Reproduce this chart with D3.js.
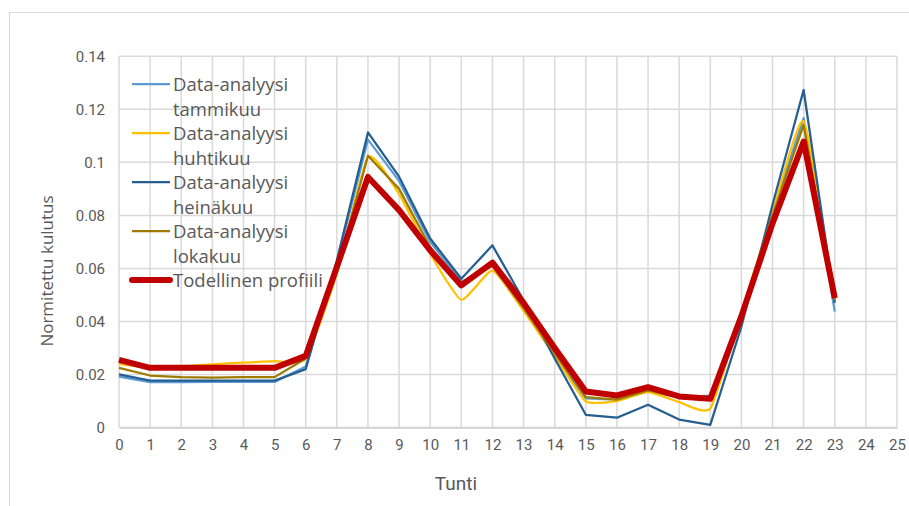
<!DOCTYPE html>
<html><head><meta charset="utf-8">
<script src="https://cdn.jsdelivr.net/npm/d3@7"></script>
<style>body{margin:0;background:#fff}svg{display:block}</style>
</head><body>
<svg id="c" width="909" height="506"></svg>
<script>
const hours = d3.range(0, 24);
const xTicks = d3.range(0, 26);
const yTicks = [0, 0.02, 0.04, 0.06, 0.08, 0.1, 0.12, 0.14];
const yTickLabels = ["0", "0.02", "0.04", "0.06", "0.08", "0.1", "0.12", "0.14"];
const seriesNames = ["Data-analyysi tammikuu", "Data-analyysi huhtikuu", "Data-analyysi heinäkuu", "Data-analyysi lokakuu", "Todellinen profiili"];
const tammikuu = [0.0192,0.0171,0.0171,0.0172,0.0172,0.0172,0.023,0.062,0.1086,0.093,0.070,0.055,0.061,0.046,0.027,0.011,0.0105,0.0135,0.0115,0.012,0.043,0.081,0.1167,0.0437];
const huhtikuu = [0.024,0.0225,0.023,0.0238,0.0245,0.025,0.026,0.058,0.102,0.088,0.0655,0.0482,0.0592,0.044,0.027,0.0099,0.010,0.0133,0.0096,0.0072,0.043,0.081,0.1154,0.048];
const heinakuu = [0.020,0.0177,0.0177,0.0177,0.0177,0.0177,0.022,0.063,0.1113,0.0946,0.0713,0.0561,0.0687,0.048,0.026,0.0048,0.0037,0.0086,0.003,0.001,0.038,0.084,0.1273,0.047];
const lokakuu = [0.0225,0.0196,0.019,0.0188,0.019,0.019,0.026,0.059,0.1025,0.090,0.068,0.054,0.061,0.045,0.028,0.0115,0.0105,0.014,0.0115,0.0115,0.043,0.080,0.1141,0.048];
const todellinen = [0.0255,0.0225,0.0225,0.0225,0.0225,0.0225,0.027,0.0605,0.0945,0.082,0.0668,0.0536,0.0622,0.047,0.030,0.0136,0.0121,0.0152,0.0117,0.0108,0.042,0.077,0.1078,0.0488];

const seriesData = [tammikuu, huhtikuu, heinakuu, lokakuu, todellinen];
const colors = ["#5B9BD5", "#FFC000", "#255E91", "#9E7A00", "#C00000"];
const widths = [2.25, 2.25, 2.25, 2.25, 6];
const smooth = [false, true, false, false, false];

const svg = d3.select("#c");
const pLeft = 119, pRight = 897, pTop = 56.3, pBottom = 427.5;
const x = d3.scaleLinear().domain([0, 25]).range([pLeft, pRight]);
const y = d3.scaleLinear().domain([0, 0.14]).range([pBottom, pTop]);

// chart border
svg.append("rect").attr("x", 9.5).attr("y", 12.5).attr("width", 1000).attr("height", 600)
  .attr("fill", "none").attr("stroke", "#d9d9d9").attr("stroke-width", 1);

// gridlines
const g = svg.append("g");
g.selectAll("line.v").data(xTicks).enter().append("line")
  .attr("x1", d => x(d)).attr("x2", d => x(d)).attr("y1", pTop).attr("y2", pBottom)
  .attr("stroke", "#d9d9d9").attr("stroke-width", 1.5);
g.selectAll("line.h").data(yTicks).enter().append("line")
  .attr("x1", pLeft).attr("x2", pRight).attr("y1", d => y(d)).attr("y2", d => y(d))
  .attr("stroke", "#d9d9d9").attr("stroke-width", 1.5);

// axes
const xAxis = d3.axisBottom(x).tickValues(xTicks).tickSize(0).tickPadding(12).tickFormat(d3.format("d"));
const ax = svg.append("g").attr("transform", `translate(0,${pBottom})`).call(xAxis);
ax.select(".domain").attr("stroke", "#d0d0d0").attr("stroke-width", 1.5);
ax.selectAll("text").attr("fill", "#595959").style("font-family", "'Liberation Sans Narrow', 'Roboto', sans-serif").style("font-size", "15px");

const yAxis = d3.axisLeft(y).tickValues(yTicks).tickSize(0).tickPadding(14).tickFormat((d, i) => yTickLabels[i]);
const ay = svg.append("g").attr("transform", `translate(${pLeft},0)`).call(yAxis);
ay.select(".domain").remove();
ay.selectAll("text").attr("fill", "#595959").style("font-family", "'Liberation Sans Narrow', 'Roboto', sans-serif").style("font-size", "15px");

// axis titles
svg.append("text").attr("x", 456).attr("y", 490).attr("text-anchor", "middle")
  .attr("fill", "#595959").style("font-family", "'Liberation Sans Narrow', 'Roboto', sans-serif").style("font-size", "19px").text("Tunti");
svg.append("text").attr("transform", "translate(53,271) rotate(-90)").attr("text-anchor", "middle")
  .attr("fill", "#595959").style("font-family", "'Open Sans', sans-serif").style("font-size", "17px").text("Normitettu kulutus");

// lines
seriesData.forEach((data, i) => {
  const line = d3.line().x((d, j) => x(hours[j])).y(d => y(d))
    .curve(smooth[i] ? d3.curveCardinal.tension(0.5) : d3.curveLinear);
  svg.append("path").datum(data).attr("d", line).attr("fill", "none")
    .attr("stroke", colors[i]).attr("stroke-width", widths[i])
    .attr("stroke-linejoin", "round").attr("stroke-linecap", "butt");
});

// legend
const legendY = [84, 133, 182, 231, 280];
seriesNames.forEach((name, i) => {
  const ly = legendY[i];
  svg.append("line").attr("x1", 132).attr("x2", 170).attr("y1", ly).attr("y2", ly)
    .attr("stroke", colors[i]).attr("stroke-width", widths[i]).attr("stroke-linecap", i === 4 ? "round" : "butt");
  const t = svg.append("text").attr("x", 173).attr("y", ly + 6.5)
    .attr("fill", "#595959").style("font-family", "'Open Sans', sans-serif").style("font-size", "18.5px");
  if (i < 4) {
    const parts = name.split(" ");
    t.append("tspan").attr("x", 173).text(parts[0]);
    t.append("tspan").attr("x", 173).attr("dy", 25).text(parts[1]);
  } else {
    t.text(name);
  }
});
</script>
</body></html>
